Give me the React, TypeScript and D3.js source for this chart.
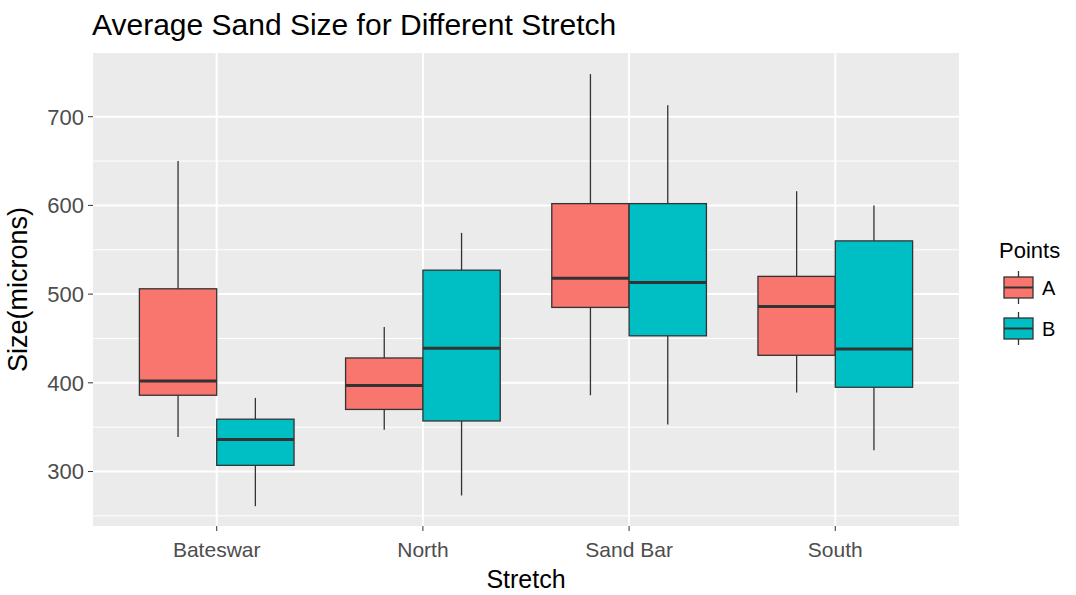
import React from "react";
import * as d3 from "d3";

// Stretch categories along the x axis
const stretches = ["Bateswar", "North", "Sand Bar", "South"];
// Sampling points (fill groups)
const points = ["A", "B"];
const pointColors = ["#F8766D", "#00BFC4"];

// Five-number summaries per stretch: [whisker low, Q1, median, Q3, whisker high]
const statsA = [
  [339, 386, 402, 506, 650],
  [347, 370, 397, 428, 463],
  [386, 485, 518, 602, 748],
  [389, 431, 486, 520, 616],
];
const statsB = [
  [261, 307, 336, 359, 383],
  [273, 357, 439, 527, 569],
  [353, 453, 513, 602, 713],
  [324, 395, 438, 560, 600],
];

const yTicks = [300, 400, 500, 600, 700];
const yMinorTicks = [250, 350, 450, 550, 650];

const W = 1076;
const H = 595;
const panel = { left: 93, right: 959, top: 53, bottom: 526 };
const font = "'Liberation Sans', Arial, sans-serif";

export default function App() {
  const x = d3
    .scalePoint<string>()
    .domain(stretches)
    .range([panel.left, panel.right])
    .padding(0.6);
  const step = x.step();
  const y = d3.scaleLinear().domain([238.6, 771.8]).range([panel.bottom, panel.top]);

  const dodge = 0.75 * step;
  const boxW = dodge / points.length;

  const series = [statsA, statsB];

  return (
    <svg width={W} height={H} style={{ position: "absolute", left: 0, top: 0, background: "#fff" }}>
      <text x={92} y={35} fontFamily={font} fontSize={30} fill="#000">
        Average Sand Size for Different Stretch
      </text>

      {/* panel background and grid */}
      <rect
        x={panel.left}
        y={panel.top}
        width={panel.right - panel.left}
        height={panel.bottom - panel.top}
        fill="#EBEBEB"
      />
      {yMinorTicks.map((t) => (
        <line key={"m" + t} x1={panel.left} x2={panel.right} y1={y(t)} y2={y(t)} stroke="#fff" strokeWidth={1} />
      ))}
      {yTicks.map((t) => (
        <line key={"g" + t} x1={panel.left} x2={panel.right} y1={y(t)} y2={y(t)} stroke="#fff" strokeWidth={2} />
      ))}
      {stretches.map((s) => (
        <line key={"v" + s} x1={x(s)} x2={x(s)} y1={panel.top} y2={panel.bottom} stroke="#fff" strokeWidth={2} />
      ))}

      {/* boxes */}
      {stretches.map((s, i) =>
        series.map((ser, j) => {
          const [lo, q1, med, q3, hi] = ser[i];
          const x0 = (x(s) as number) - dodge / 2 + j * boxW;
          const cx = x0 + boxW / 2;
          return (
            <g key={s + j}>
              <line x1={cx} x2={cx} y1={y(hi)} y2={y(q3)} stroke="#333" strokeWidth={1.3} />
              <line x1={cx} x2={cx} y1={y(q1)} y2={y(lo)} stroke="#333" strokeWidth={1.3} />
              <rect
                x={x0}
                y={y(q3)}
                width={boxW}
                height={y(q1) - y(q3)}
                fill={pointColors[j]}
                stroke="#333"
                strokeWidth={1.3}
              />
              <line x1={x0} x2={x0 + boxW} y1={y(med)} y2={y(med)} stroke="#333" strokeWidth={3} />
            </g>
          );
        })
      )}

      {/* y axis */}
      {yTicks.map((t) => (
        <g key={"yt" + t}>
          <line x1={panel.left - 5} x2={panel.left} y1={y(t)} y2={y(t)} stroke="#333" strokeWidth={1} />
          <text
            x={panel.left - 9}
            y={y(t)}
            dy="0.36em"
            textAnchor="end"
            fontFamily={font}
            fontSize={22}
            fill="#4D4D4D"
          >
            {t}
          </text>
        </g>
      ))}
      <text
        transform={`translate(27,${(panel.top + panel.bottom) / 2}) rotate(-90)`}
        textAnchor="middle"
        fontFamily={font}
        fontSize={27}
        fill="#000"
      >
        Size(microns)
      </text>

      {/* x axis */}
      {stretches.map((s) => (
        <g key={"xt" + s}>
          <line x1={x(s)} x2={x(s)} y1={panel.bottom} y2={panel.bottom + 5} stroke="#333" strokeWidth={1} />
          <text
            x={x(s)}
            y={557}
            textAnchor="middle"
            fontFamily={font}
            fontSize={21}
            fill="#4D4D4D"
          >
            {s}
          </text>
        </g>
      ))}
      <text
        x={(panel.left + panel.right) / 2}
        y={588}
        textAnchor="middle"
        fontFamily={font}
        fontSize={25}
        fill="#000"
      >
        Stretch
      </text>

      {/* legend */}
      <text x={999} y={258} fontFamily={font} fontSize={22} fill="#000">
        Points
      </text>
      {points.map((p, j) => {
        const top = 277 + j * 41;
        const kx = 1004;
        const kw = 29;
        const kh = 21;
        return (
          <g key={"lg" + p}>
            <line x1={kx + kw / 2} x2={kx + kw / 2} y1={top - 6} y2={top + kh + 6} stroke="#333" strokeWidth={1.3} />
            <rect x={kx} y={top} width={kw} height={kh} fill={pointColors[j]} stroke="#333" strokeWidth={1.3} />
            <line x1={kx} x2={kx + kw} y1={top + kh / 2} y2={top + kh / 2} stroke="#333" strokeWidth={2} />
            <text x={1042} y={top + kh / 2} dy="0.36em" fontFamily={font} fontSize={20} fill="#000">
              {p}
            </text>
          </g>
        );
      })}
    </svg>
  );
}
